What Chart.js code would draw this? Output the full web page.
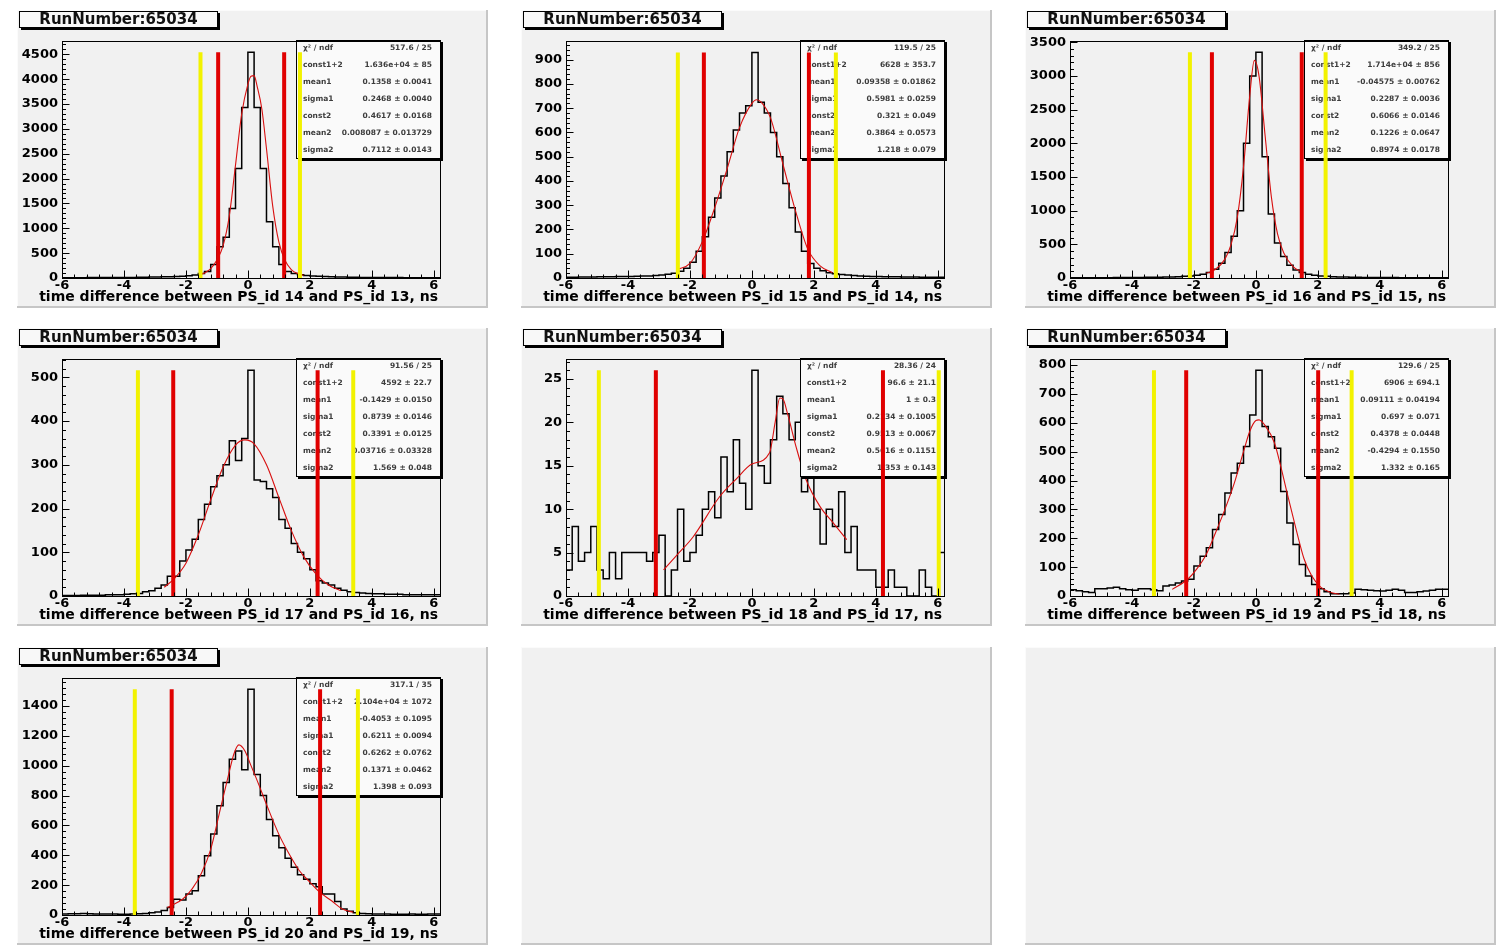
<!DOCTYPE html>
<html lang="en">
<head>
  <meta charset="UTF-8">
  <title>PS_id time differences, run 65034</title>
  <script src="https://cdn.jsdelivr.net/npm/chart.js"></script>
  <style>
    html, body {
      margin: 0;
      padding: 0;
      background: #fff;
    }
    body {
      width: 1496px;
      height: 947px;
      position: relative;
      overflow: hidden;
      font-family: 'DejaVu Sans', sans-serif;
    }
    .pad {
      position: absolute;
      width: 471px;
      height: 298px;
      background: #f1f1f1;
      box-shadow: inset -2px -2px 0 #c6c6c6, inset 1px 1px 0 #fbfbfb;
    }
    .pad canvas {
      position: absolute;
      left: 0;
      top: 0;
    }
    .runbox {
      position: absolute;
      left: 2px;
      top: 1px;
      width: 197px;
      height: 15px;
      background: #f8f8f8;
      border: 1px solid #000;
      box-shadow: 2px 2px 0 #000;
      font: bold 15px 'DejaVu Sans', sans-serif;
      line-height: 15px;
      text-align: center;
      color: #111;
      z-index: 2;
    }
    .xtitle {
      position: absolute;
      right: 50px;
      top: 278px;
      font: bold 14px 'DejaVu Sans', sans-serif;
      line-height: 16px;
      white-space: nowrap;
      color: #000;
      z-index: 2;
    }
  </style>
</head>
<body>

  <script>
    // ---- data ----
    const runLabel = "RunNumber:65034";
    const psPairs = [[14, 13], [15, 14], [16, 15], [17, 16], [18, 17], [19, 18], [20, 19]];

    const binLow = -6, binWidth = 0.2;   // 61 bins, -6 .. 6.2 ns
    const xMin = -6, xMax = 6.2;
    const xTicks = [-6, -4, -2, 0, 2, 4, 6];
    const yMax = [4767, 977, 3518, 542, 27.3, 821, 1587];
    const yStep = [500, 100, 500, 100, 5, 100, 200];

    const counts14_13 = [5,5,5,5,8,8,8,10,10,10, 12,12,15,15,20,20,25,25,30,35,
      45,60,90,130,270,630,820,1400,2200,3430, 4540,3430,2200,1130,630,270,130,90,65,50,
      40,35,30,25,20,20,15,15,12,12, 10,10,8,8,8,5,5,5,5,5,5];
    const counts15_14 = [3,3,4,4,4,5,5,5,6,6, 6,7,8,8,10,12,15,20,28,40,
      65,110,170,250,330,420,520,610,680,710, 930,725,680,600,500,390,290,190,110,60,
      40,30,22,18,14,12,10,8,7,6, 6,5,5,5,4,4,4,3,3,3,3];
    const counts16_15 = [3,3,4,4,5,5,5,6,6,7, 8,8,10,10,12,14,16,20,25,30,
      40,55,80,130,220,380,620,1000,2000,3000, 3350,1800,950,520,320,190,120,80,55,40,
      30,25,20,16,14,12,10,9,8,7, 7,6,6,5,5,5,4,4,4,3,3];
    const counts17_16 = [1,1,1,2,2,2,2,3,3,3, 4,5,6,10,12,18,25,45,45,80,
      105,130,175,210,250,275,300,355,310,360, 516,265,262,245,225,175,155,120,100,85,
      60,35,30,25,18,13,10,8,7,6, 5,5,4,4,4,3,3,3,3,3,3];
    const counts18_17 = [3,8,4,5,8,3,2,5,2,5, 5,5,5,4,5,7,0,3,10,4,
      5,7,10,12,9,16,12,18,13,10, 26,15,13,18,23,21,18,20,12,14,
      10,6,10,8,12,5,8,3,3,3, 1,1,3,1,1,0,0,3,1,0,5];
    const counts19_18 = [22,18,15,12,25,25,28,30,25,22, 20,25,25,22,18,35,38,45,52,58,
      104,138,167,230,282,357,426,460,518,627, 782,587,552,512,362,253,178,109,69,40,
      25,15,8,8,8,10,23,22,20,18, 17,20,23,20,12,12,15,17,20,23,23];
    const counts20_19 = [7,8,8,10,8,7,7,6,6,5, 5,6,8,10,15,20,30,50,105,100,
      140,163,263,397,542,731,887,1043,1099,972, 1511,940,800,640,530,450,380,320,270,240,
      210,190,140,140,90,40,25,15,10,8, 7,6,6,5,5,5,6,5,5,6,7];

    const fitX14_13 = [-1.6,-1.4,-1.2,-1.0,-0.8,-0.6,-0.4,-0.2,0,0.1,0.2,0.3,0.45,0.6,0.8,1.0,1.2,1.4,1.6,1.8];
    const fitY14_13 = [55,100,190,360,650,1250,2270,3300,3900,4060,4070,3850,3400,2600,1450,720,350,170,90,55];
    const fitX15_14 = [-2.4,-2.0,-1.6,-1.2,-0.8,-0.4,0,0.15,0.3,0.6,1.0,1.4,1.8,2.2,2.6];
    const fitY15_14 = [35,60,150,290,450,620,720,735,725,660,470,280,120,50,22];
    const fitX16_15 = [-1.6,-1.3,-1.0,-0.8,-0.6,-0.4,-0.2,-0.05,0.1,0.3,0.5,0.7,0.9,1.2,1.5];
    const fitY16_15 = [70,130,280,500,900,1650,2700,3230,3000,2100,1200,650,370,170,80];
    const fitX17_16 = [-2.7,-2.4,-2.0,-1.6,-1.2,-0.8,-0.4,-0.1,0.2,0.6,1.0,1.4,1.8,2.2,2.6,3.0];
    const fitY17_16 = [20,38,75,140,220,295,345,357,348,300,225,150,90,50,25,12];
    const fitX18_17 = [-2.85,-2.45,-1.9,-1.05,-0.5,0,0.57,0.75,0.9,1.0,1.15,1.44,1.76,2.2,2.63,3.06];
    const fitY18_17 = [3,4.6,6.8,11.4,13.5,15.2,16.5,20,22.8,22.7,21,17,13.3,10.3,8.4,6.5];
    const fitX19_18 = [-2.7,-2.2,-1.9,-1.6,-1.3,-1.0,-0.7,-0.4,-0.2,0,0.1,0.3,0.6,0.8,1.0,1.3,1.55,1.8,2.1,2.4,2.7];
    const fitY19_18 = [23,58,95,145,220,300,390,500,570,608,610,590,530,450,360,230,130,70,30,13,6];
    const fitX20_19 = [-2.6,-2.1,-1.8,-1.5,-1.2,-0.9,-0.6,-0.45,-0.29,-0.1,0.1,0.3,0.6,1.0,1.3,1.65,2.0,2.3,2.7,3.05,3.4];
    const fitY20_19 = [50,107,175,280,440,700,960,1080,1139,1100,1000,900,740,540,420,300,220,156,95,40,18];

    // cut positions (ns): yellow = outer window, red = inner window
    const yellowCuts = [[-1.53, 1.68], [-2.39, 2.71], [-2.13, 2.25], [-3.55, 3.4], [-4.94, 6.03], [-3.29, 3.09], [-3.65, 3.55]];
    const redCuts = [[-0.96, 1.17], [-1.55, 1.84], [-1.42, 1.48], [-2.41, 2.25], [-3.1, 4.23], [-2.25, 2.01], [-2.46, 2.33]];

    const statNames = ["χ² / ndf", "const1+2", "mean1", "sigma1", "const2", "mean2", "sigma2"];
    const stats14_13 = ["517.6 / 25", "1.636e+04 ± 85", "0.1358 ± 0.0041", "0.2468 ± 0.0040", "0.4617 ± 0.0168", "0.008087 ± 0.013729", "0.7112 ± 0.0143"];
    const stats15_14 = ["119.5 / 25", "6628 ± 353.7", "0.09358 ± 0.01862", "0.5981 ± 0.0259", "0.321 ± 0.049", "0.3864 ± 0.0573", "1.218 ± 0.079"];
    const stats16_15 = ["349.2 / 25", "1.714e+04 ± 856", "-0.04575 ± 0.00762", "0.2287 ± 0.0036", "0.6066 ± 0.0146", "0.1226 ± 0.0647", "0.8974 ± 0.0178"];
    const stats17_16 = ["91.56 / 25", "4592 ± 22.7", "-0.1429 ± 0.0150", "0.8739 ± 0.0146", "0.3391 ± 0.0125", "0.03716 ± 0.03328", "1.569 ± 0.048"];
    const stats18_17 = ["28.36 / 24", "96.6 ± 21.1", "1 ± 0.3", "0.2134 ± 0.1005", "0.9513 ± 0.0067", "0.5616 ± 0.1151", "1.353 ± 0.143"];
    const stats19_18 = ["129.6 / 25", "6906 ± 694.1", "0.09111 ± 0.04194", "0.697 ± 0.071", "0.4378 ± 0.0448", "-0.4294 ± 0.1550", "1.332 ± 0.165"];
    const stats20_19 = ["317.1 / 35", "2.104e+04 ± 1072", "-0.4053 ± 0.1095", "0.6211 ± 0.0094", "0.6262 ± 0.0762", "0.1371 ± 0.0462", "1.398 ± 0.093"];

    const allCounts = [counts14_13, counts15_14, counts16_15, counts17_16, counts18_17, counts19_18, counts20_19];
    const allFitX = [fitX14_13, fitX15_14, fitX16_15, fitX17_16, fitX18_17, fitX19_18, fitX20_19];
    const allFitY = [fitY14_13, fitY15_14, fitY16_15, fitY17_16, fitY18_17, fitY19_18, fitY20_19];
    const allStats = [stats14_13, stats15_14, stats16_15, stats17_16, stats18_17, stats19_18, stats20_19];

    // ---- drawing ----
    const FONT = "'DejaVu Sans', sans-serif";
    Chart.defaults.font.family = FONT;

    function histPoints(counts) {
      const pts = counts.map((c, k) => ({ x: binLow + binWidth * k, y: c }));
      pts.push({ x: binLow + binWidth * counts.length, y: counts[counts.length - 1] });
      return pts;
    }

    function cutLine(x, top, color) {
      return {
        data: [{ x: x, y: 0 }, { x: x, y: top }],
        borderColor: color,
        borderWidth: 4,
        pointRadius: 0,
        order: 1
      };
    }

    function yTickList(i) {
      const t = [];
      for (let k = 0; k * yStep[i] <= yMax[i]; k++) t.push({ value: k * yStep[i] });
      return t;
    }

    function drawStats(chart, vals) {
      const { ctx, chartArea: a } = chart;
      const w = 145, h = 119;
      const x = Math.round(a.right) - w + 1, y = Math.round(a.top) - 1;
      ctx.save();
      ctx.fillStyle = "#000";
      ctx.fillRect(x + 2, y + 2, w, h);
      ctx.fillStyle = "#fafafa";
      ctx.fillRect(x, y, w, h);
      ctx.strokeStyle = "#000";
      ctx.lineWidth = 1;
      ctx.strokeRect(x + 0.5, y + 0.5, w - 1, h - 1);
      ctx.font = "bold 7.5px " + FONT;
      ctx.fillStyle = "#3c3c3c";
      ctx.textBaseline = "middle";
      for (let r = 0; r < statNames.length; r++) {
        const cy = y + 8.5 + 17 * r;
        ctx.textAlign = "left";
        ctx.fillText(statNames[r], x + 7, cy);
        ctx.textAlign = "right";
        ctx.fillText(vals[r], x + w - 9, cy);
      }
      ctx.restore();
    }

    function drawFrame(chart, step) {
      const { ctx, chartArea: a, scales } = chart;
      const L = Math.round(a.left) + 0.5, T = Math.round(a.top) + 0.5;
      const R = Math.round(a.right) + 0.5, B = Math.round(a.bottom) + 0.5;
      ctx.save();
      ctx.strokeStyle = "#000";
      ctx.lineWidth = 1;
      ctx.strokeRect(L, T, R - L, B - T);
      ctx.beginPath();
      // x: major every 2 ns, 5 minor divisions
      const xs = xTicks[1] - xTicks[0];
      for (let k = 0; ; k++) {
        const v = xTicks[0] + k * xs / 5;
        if (v > scales.x.max + 1e-9) break;
        const px = Math.round(scales.x.getPixelForValue(v)) + 0.5;
        ctx.moveTo(px, B);
        ctx.lineTo(px, B - (k % 5 === 0 ? 8 : 4));
      }
      for (let k = 0; ; k++) {
        const v = k * step / 5;
        if (v > scales.y.max + 1e-9) break;
        const py = Math.round(scales.y.getPixelForValue(v)) + 0.5;
        ctx.moveTo(L, py);
        ctx.lineTo(L + (k % 5 === 0 ? 7 : 3.5), py);
      }
      ctx.stroke();
      ctx.restore();
    }

    const padLeft = [17, 521, 1025];
    const padTop = [10, 328, 647];

    for (let i = 0; i < 9; i++) {
      const pad = document.createElement("div");
      pad.className = "pad";
      pad.style.left = padLeft[i % 3] + "px";
      pad.style.top = padTop[Math.floor(i / 3)] + "px";
      document.body.appendChild(pad);
      if (i >= allCounts.length) continue;

      const [a, b] = psPairs[i];

      const box = document.createElement("div");
      box.className = "runbox";
      box.textContent = runLabel;
      pad.appendChild(box);

      const xt = document.createElement("div");
      xt.className = "xtitle";
      xt.textContent = `time difference between PS_id ${a} and PS_id ${b}, ns`;
      pad.appendChild(xt);

      const cv = document.createElement("canvas");
      cv.width = 471;
      cv.height = 298;
      pad.appendChild(cv);

      const counts = allCounts[i];
      const top = Math.max(...counts);
      const fitPts = allFitX[i].map((x, k) => ({ x: x, y: allFitY[i][k] }));

      const rootLook = {
        id: "rootLook",
        afterDatasetDraw(chart, args) {
          if (args.index === 1) drawStats(chart, allStats[i]);
        },
        afterDraw(chart) {
          drawFrame(chart, yStep[i]);
        }
      };

      new Chart(cv, {
        type: "line",
        data: {
          datasets: [
            {
              data: histPoints(counts),
              stepped: "before",
              borderColor: "#000",
              borderWidth: 1.5,
              pointRadius: 0,
              fill: false,
              order: 3
            },
            {
              data: fitPts,
              borderColor: "#d81010",
              borderWidth: 1.1,
              pointRadius: 0,
              cubicInterpolationMode: "monotone",
              fill: false,
              order: 2
            },
            cutLine(yellowCuts[i][0], top, "#f2f200"),
            cutLine(yellowCuts[i][1], top, "#f2f200"),
            cutLine(redCuts[i][0], top, "#e00000"),
            cutLine(redCuts[i][1], top, "#e00000")
          ]
        },
        options: {
          responsive: false,
          animation: false,
          devicePixelRatio: 1,
          layout: { padding: { top: 31, right: 48, left: 0, bottom: 0 } },
          plugins: {
            legend: { display: false },
            tooltip: { enabled: false }
          },
          scales: {
            x: {
              type: "linear",
              min: xMin,
              max: xMax,
              bounds: "data",
              grid: { display: false, drawTicks: false },
              border: { display: false },
              afterBuildTicks: s => { s.ticks = xTicks.map(v => ({ value: v })); },
              afterFit: s => { s.height = 30; },
              ticks: {
                autoSkip: false,
                maxRotation: 0,
                padding: 0,
                color: "#000",
                font: { size: 13, weight: "bold" },
                callback: v => String(v)
              }
            },
            y: {
              min: 0,
              max: yMax[i],
              bounds: "data",
              grid: { display: false, drawTicks: false },
              border: { display: false },
              afterBuildTicks: s => { s.ticks = yTickList(i); },
              afterFit: s => { s.width = 45; },
              ticks: {
                autoSkip: false,
                padding: 4,
                color: "#000",
                font: { size: 13, weight: "bold" },
                callback: v => String(v)
              }
            }
          }
        },
        plugins: [rootLook]
      });
    }
  </script>

</body>
</html>
